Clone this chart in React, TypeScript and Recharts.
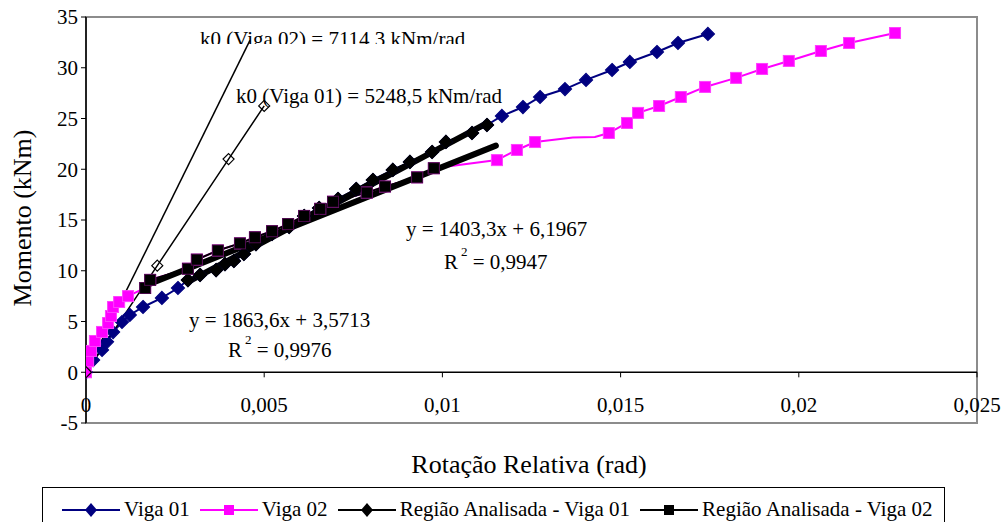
import React from "react";
import {
  LineChart,
  Line,
  XAxis,
  YAxis,
  ReferenceLine,
  ReferenceArea,
  Customized,
} from "recharts";

const FONT = '"Liberation Serif", "Times New Roman", serif';

const xTicks = [0, 0.005, 0.01, 0.015, 0.02, 0.025];
const yTicks = [-5, 0, 5, 10, 15, 20, 25, 30, 35];

// Viga 01 (navy)
const viga01X = [
  0, 0.0002, 0.00045, 0.00059, 0.00076, 0.00101, 0.00123, 0.0016, 0.00213, 0.00258,
  0.00286, 0.0032, 0.00365, 0.0039, 0.00415, 0.00443, 0.00477, 0.00522, 0.0057, 0.00612,
  0.00654, 0.00707, 0.00758, 0.00805, 0.00861, 0.00909, 0.00971, 0.0101, 0.01083, 0.01125,
  0.01167, 0.01226, 0.01274, 0.01344, 0.01403, 0.01476, 0.01526, 0.01602, 0.01661, 0.01745,
];
const viga01Y = [
  0, 1.2, 2.2, 3.0, 3.96, 4.95, 5.64, 6.43, 7.32, 8.3,
  9.08, 9.58, 10.07, 10.66, 10.96, 11.65, 12.63, 13.62, 14.31, 15.39,
  16.18, 17.07, 18.05, 18.94, 19.93, 20.72, 21.7, 22.69, 23.57, 24.36,
  25.25, 26.13, 27.12, 27.9, 28.8, 29.78, 30.57, 31.55, 32.44, 33.33,
];

// Viga 02 (magenta)
const viga02X = [
  0, 0.00006, 0.00014, 0.00025, 0.00045, 0.00062, 0.0007, 0.00076, 0.00093, 0.00118,
  0.00166, 0.0018, 0.00286, 0.00311, 0.0037, 0.00432, 0.00474, 0.00522, 0.00567, 0.00612,
  0.00657, 0.00693, 0.00788, 0.00839, 0.00929, 0.00976,
  0.01153, 0.01209, 0.0126, 0.01366, 0.01428, 0.01467, 0.01518, 0.01549, 0.01608, 0.01669,
  0.01737, 0.01824, 0.01897, 0.01972, 0.02062, 0.02141, 0.0227,
];
const viga02Y = [
  0, 1.1, 2.1, 3.08, 3.97, 4.85, 5.54, 6.43, 6.92, 7.5,
  8.3, 9.1, 10.2, 11.1, 12.0, 12.7, 13.3, 13.9, 14.6, 15.4,
  16.1, 16.8, 17.7, 18.3, 19.2, 20.1,
  20.9, 21.9, 22.68, 23.13, 23.18, 23.57, 24.56, 25.55, 26.23, 27.12,
  28.11, 29.0, 29.88, 30.67, 31.65, 32.44, 33.42,
];
const viga02NoMarker = [0.01366, 0.01428];

// Região analisada - Viga 01
const reg01X = [
  0.00286, 0.0032, 0.00365, 0.0039, 0.00415, 0.00443, 0.00477, 0.00522, 0.0057, 0.00612,
  0.00654, 0.00707, 0.00758, 0.00805, 0.00861, 0.00909, 0.00971, 0.0101, 0.01083, 0.01125,
];
const reg01Y = [
  9.08, 9.58, 10.07, 10.66, 10.96, 11.65, 12.63, 13.62, 14.31, 15.39,
  16.18, 17.07, 18.05, 18.94, 19.93, 20.72, 21.7, 22.69, 23.57, 24.36,
];

// Região analisada - Viga 02
const reg02X = [
  0.00166, 0.0018, 0.00286, 0.00311, 0.0037, 0.00432, 0.00474, 0.00522, 0.00567, 0.00612,
  0.00657, 0.00693, 0.00788, 0.00839, 0.00929, 0.00976,
];
const reg02Y = [
  8.3, 9.1, 10.2, 11.1, 12.0, 12.7, 13.3, 13.9, 14.6, 15.4,
  16.1, 16.8, 17.7, 18.3, 19.2, 20.1,
];

// trend lines (linear fits)
const trend01X = [0.00286, 0.01125];
const trend01Y = [8.9, 24.54];
const trend02X = [0.00166, 0.0115];
const trend02Y = [8.53, 22.33];

// initial stiffness lines
const k0v01X = [0, 0.002, 0.004, 0.005];
const k0v01Y = [0, 10.5, 21.0, 26.24];
const k0v02X = [0, 0.0046];
const k0v02Y = [0, 32.7];

type Pt = { x: number; y: number; noMarker?: boolean };
const zip = (xs: number[], ys: number[], skip: number[] = []): Pt[] =>
  xs.map((x, i) => ({ x, y: ys[i], noMarker: skip.includes(x) }));

const makeDot =
  (shape: "diamond" | "square", fill: string, stroke: string, size: number) =>
  (props: any) => {
    const { cx, cy, payload, index } = props;
    if (payload?.noMarker || cx == null || cy == null) return <g key={`n${index}`} />;
    const h = size / 2;
    if (shape === "diamond") {
      return (
        <path
          key={`d${index}`}
          d={`M${cx},${cy - h}L${cx + h},${cy}L${cx},${cy + h}L${cx - h},${cy}Z`}
          fill={fill}
          stroke={stroke}
          strokeWidth={1.2}
        />
      );
    }
    return (
      <rect key={`s${index}`} x={cx - h} y={cy - h} width={size} height={size} fill={fill} stroke={stroke} strokeWidth={1} />
    );
  };

const fmtX = (v: number) => String(v).replace(".", ",");

const XTick = (props: any) => {
  const { x, y, payload } = props;
  return (
    <text x={x} y={y - 26} dy="0.35em" textAnchor="middle" fontFamily={FONT} fontSize={21} fill="#000">
      {fmtX(payload.value)}
    </text>
  );
};

const Annotations = () => (
  <g fontFamily={FONT} fontSize={21} fill="#000">
    <defs>
      <clipPath id="k0clip">
        <rect x={150} y={0} width={400} height={44} />
      </clipPath>
    </defs>
    <text x={200} y={46} clipPath="url(#k0clip)">k0 (Viga 02) = 7114,3 kNm/rad</text>
    <text x={236} y={103}>k0 (Viga 01) = 5248,5 kNm/rad</text>
    <text x={406} y={236}>y = 1403,3x + 6,1967</text>
    <text x={444} y={269}>
      R<tspan dx={3} dy={-13} fontSize={13}>2</tspan>
      <tspan dy={13}> = 0,9947</tspan>
    </text>
    <text x={189} y={327}>y = 1863,6x + 3,5713</text>
    <text x={228} y={357}>
      R<tspan dx={3} dy={-13} fontSize={13}>2</tspan>
      <tspan dy={13}> = 0,9976</tspan>
    </text>
    <text x={529} y={473} textAnchor="middle" fontSize={26}>Rotação Relativa (rad)</text>
    <text transform="translate(31,218) rotate(-90)" textAnchor="middle" fontSize={26}>Momento (kNm)</text>
  </g>
);

const legendItems = [
  { label: "Viga 01", color: "#000080", shape: "diamond" as const },
  { label: "Viga 02", color: "#FF00FF", shape: "square" as const },
  { label: "Região Analisada - Viga 01", color: "#000000", shape: "diamond" as const },
  { label: "Região Analisada - Viga 02", color: "#000000", shape: "square" as const },
];

const ChartLegend = () => (
  <div
    style={{
      position: "absolute",
      left: 42,
      top: 487,
      width: 903,
      height: 45,
      border: "1px solid #000",
      boxSizing: "border-box",
      display: "flex",
      alignItems: "center",
      paddingLeft: 19,
      fontFamily: FONT,
      fontSize: 21,
      color: "#000",
      whiteSpace: "nowrap",
    }}
  >
    {legendItems.map((it) => (
      <div key={it.label} style={{ display: "flex", alignItems: "center", marginRight: 10 }}>
        <svg width={58} height={20}>
          <line x1={0} y1={10} x2={58} y2={10} stroke={it.color} strokeWidth={2} />
          {it.shape === "diamond" ? (
            <path d="M29,3L35,10L29,17L23,10Z" fill={it.color} />
          ) : (
            <rect x={24} y={5} width={10} height={10} fill={it.color} />
          )}
        </svg>
        <span style={{ marginLeft: 4 }}>{it.label}</span>
      </div>
    ))}
  </div>
);

export default function App() {
  const viga01 = zip(viga01X, viga01Y);
  const viga02 = zip(viga02X, viga02Y, viga02NoMarker);
  const reg01 = zip(reg01X, reg01Y);
  const reg02 = zip(reg02X, reg02Y);
  const trend01 = zip(trend01X, trend01Y);
  const trend02 = zip(trend02X, trend02Y);
  const k0v01 = zip(k0v01X, k0v01Y);
  const k0v02 = zip(k0v02X, k0v02Y);

  return (
    <div style={{ position: "absolute", left: 0, top: 0, width: 1003, height: 522, background: "#fff", overflow: "hidden" }}>
      <LineChart width={1003} height={522} margin={{ top: 17, right: 26, left: 0, bottom: 69 }}>
        <XAxis
          type="number"
          dataKey="x"
          domain={[0, 0.025]}
          ticks={xTicks}
          axisLine={false}
          tickLine={false}
          tick={<XTick />}
          height={30}
          allowDataOverflow
        />
        <YAxis
          type="number"
          domain={[-5, 35]}
          ticks={yTicks}
          width={86}
          tickSize={5}
          tickMargin={3}
          axisLine={{ stroke: "#000", strokeWidth: 1.5 }}
          tickLine={{ stroke: "#000" }}
          tick={{ fontSize: 21, fill: "#000", fontFamily: FONT }}
          allowDataOverflow
        />
        <ReferenceArea x1={0} x2={0.025} y1={-5} y2={35} fill="none" stroke="#8c8c8c" strokeWidth={2} />
        <ReferenceLine y={0} stroke="#000" strokeWidth={1.5} />
        {xTicks.map((t) => (
          <ReferenceLine key={`xt${t}`} segment={[{ x: t, y: 0 }, { x: t, y: -0.5 }]} stroke="#000" strokeWidth={1} />
        ))}

        <Line data={viga01} dataKey="y" stroke="#000080" strokeWidth={2} dot={makeDot("diamond", "#000080", "#000080", 13)} activeDot={false} isAnimationActive={false} />
        <Line data={viga02} dataKey="y" stroke="#FF00FF" strokeWidth={2} dot={makeDot("square", "#FF00FF", "#FF40FF", 11)} activeDot={false} isAnimationActive={false} />
        <Line data={reg01} dataKey="y" stroke="#000" strokeWidth={2} dot={makeDot("diamond", "#000", "#000", 13)} activeDot={false} isAnimationActive={false} />
        <Line data={reg02} dataKey="y" stroke="#000" strokeWidth={2} dot={makeDot("square", "#000", "#4a0a4a", 11)} activeDot={false} isAnimationActive={false} />
        <Line data={trend01} dataKey="y" stroke="#000" strokeWidth={6} strokeLinecap="round" dot={false} activeDot={false} isAnimationActive={false} />
        <Line data={trend02} dataKey="y" stroke="#000" strokeWidth={6} strokeLinecap="round" dot={false} activeDot={false} isAnimationActive={false} />
        <Line data={k0v02} dataKey="y" stroke="#000" strokeWidth={1.5} dot={false} activeDot={false} isAnimationActive={false} />
        <Line data={k0v01} dataKey="y" stroke="#000" strokeWidth={1.5} dot={makeDot("diamond", "none", "#000", 11)} activeDot={false} isAnimationActive={false} />

        <Customized component={Annotations} />
      </LineChart>
      <ChartLegend />
    </div>
  );
}
